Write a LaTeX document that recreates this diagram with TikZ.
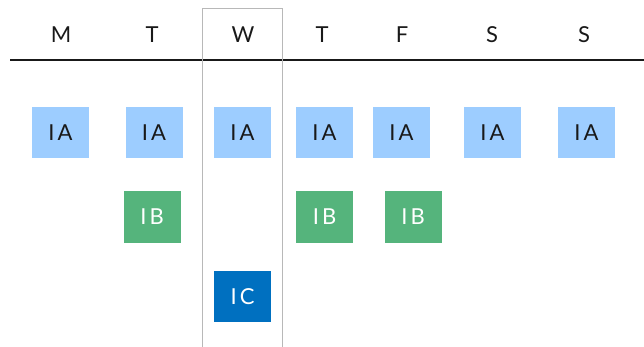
\documentclass[tikz,border=0pt]{standalone}
\usepackage{fontspec}
\setmainfont{Lato}[LetterSpace=14]
\definecolor{lightA}{HTML}{9DCDFF}
\definecolor{greenB}{HTML}{55B47C}
\definecolor{blueC}{HTML}{0070C0}
\definecolor{frameW}{HTML}{B8B8B8}
\tikzset{
  dayhead/.style={font=\fontsize{22}{22}\selectfont, text=black!90, inner sep=0pt},
  task/.style={minimum width=57pt, minimum height=51pt, inner sep=0pt,
    font=\fontsize{22}{22}\selectfont},
  taskA/.style={task, fill=lightA, text=black!90},
  taskB/.style={task, fill=greenB, text=white},
  taskC/.style={task, fill=blueC, text=white},
}
\begin{document}
\begin{tikzpicture}[x=1pt, y=-1pt]
\useasboundingbox (0,0) rectangle (644,347);
% weekday headings
\node[dayhead] (hM)  at (61,35)  {M};
\node[dayhead] (hT)  at (152,35) {T};
\node[dayhead] (hW)  at (243,35) {W};
\node[dayhead] (hTh) at (322,35) {T};
\node[dayhead] (hF)  at (402,35) {F};
\node[dayhead] (hS)  at (492,35) {S};
\node[dayhead] (hSu) at (584,35) {S};
% header rule
\coordinate (ruleL) at (10,60);
\coordinate (ruleR) at (644,60);
\draw[line width=2.5pt, black!90] (ruleL) -- (ruleR);
% highlight frame around Wednesday
\coordinate (wBL) at (202.5,350);
\coordinate (wTL) at (202.5,8.5);
\coordinate (wTR) at (282.5,8.5);
\coordinate (wBR) at (282.5,350);
\draw[frameW, line width=1.6pt] (wBL) -- (wTL) -- (wTR) -- (wBR);
% IA row
\node[taskA] (aM)  at (60.5,132.5)  {IA};
\node[taskA] (aT)  at (154,132.5)   {IA};
\node[taskA] (aW)  at (242.5,132.5) {IA};
\node[taskA] (aTh) at (324.5,132.5) {IA};
\node[taskA] (aF)  at (401.5,132.5) {IA};
\node[taskA] (aS)  at (492.5,132.5) {IA};
\node[taskA] (aSu) at (586.5,132.5) {IA};
% IB row
\node[taskB] (bT)  at (152,217)   {IB};
\node[taskB] (bTh) at (324.5,217) {IB};
\node[taskB] (bF)  at (413,217)   {IB};
% IC row
\node[taskC] (cW)  at (242.5,296.5) {IC};
\end{tikzpicture}
\end{document}
